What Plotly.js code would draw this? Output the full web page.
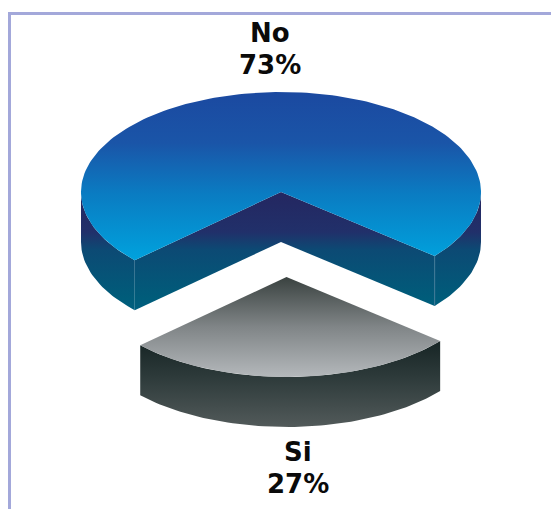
<!DOCTYPE html>
<html>
<head>
<meta charset="utf-8">
<script src="https://cdn.plot.ly/plotly-3.0.1.min.js"></script>
<style>html,body{margin:0;padding:0;background:#fff}#chart{width:551px;height:509px}</style>
</head>
<body>
<div id="chart"></div>
<script>
// Answer shares
const categories = ["No", "Si"];
const shares = [73, 27];

// Tilted-disc geometry, in page pixels
const radiusX = 200, radiusY = 100, depth = 50;
const firstAngle = 137;            // where "No" begins, clockwise on screen
const centers = {No: [281, 192], Si: [286.5, 277]};

const total = shares.reduce((a, b) => a + b, 0);
const rad = d => d * Math.PI / 180;

function rim(c, a, dy) {
  return [c[0] + radiusX * Math.cos(rad(a)), c[1] + radiusY * Math.sin(rad(a)) + (dy || 0)];
}
function arc(c, from, to) {
  const pts = [], n = Math.max(2, Math.ceil(Math.abs(to - from) / 1.5));
  for (let i = 0; i <= n; i++) pts.push(rim(c, from + (to - from) * i / n));
  return pts;
}
function polygon(pts, stops, start, stop) {
  return {
    type: "scatter", mode: "lines", hoverinfo: "skip", showlegend: false,
    x: pts.map(p => p[0]), y: pts.map(p => p[1]),
    line: {width: 0}, fill: "toself",
    fillgradient: {type: "vertical", colorscale: stops, start: start, stop: stop}
  };
}
function lift(p, dy) { return [p[0], p[1] + dy]; }

const blueSide = [[0, "#242660"], [0.35, "#21306a"], [0.5, "#0c4a74"], [0.9, "#005c7a"], [1, "#005f7f"]];
const blueTop  = [[0, "#1b49a0"], [0.3, "#1a55a8"], [0.6, "#0a7cc2"], [1, "#00a3de"]];
const greySide = [[0, "#182626"], [0.4, "#2d3a3a"], [1, "#525a5a"]];
const greyTop  = [[0, "#3a4240"], [0.5, "#808587"], [1, "#b4b8bb"]];

const noEnd = firstAngle + shares[0] / total * 360;   // same ray as the start of "Si"
const siEnd = noEnd + shares[1] / total * 360;

const traces = [];

// "No": walls first, then the top face
{
  const c = centers.No;
  const a = rim(c, firstAngle), b = rim(c, noEnd);
  // Outer wall, only the parts facing the viewer
  const leftArc = arc(c, firstAngle, 180);
  traces.push(polygon(leftArc.concat(leftArc.map(p => lift(p, depth)).reverse()), blueSide, 190, 310));
  const rightArc = arc(c, 360, noEnd);
  traces.push(polygon(rightArc.concat(rightArc.map(p => lift(p, depth)).reverse()), blueSide, 190, 310));
  // The two cut walls meeting at the centre
  traces.push(polygon([a, c, lift(c, depth), lift(a, depth)], blueSide, 190, 310));
  traces.push(polygon([c, b, lift(b, depth), lift(c, depth)], blueSide, 190, 310));
  // Light seam at the outer corner of the cut
  traces.push({
    type: "scatter", mode: "lines", hoverinfo: "skip", showlegend: false,
    x: [b[0], b[0]], y: [b[1], b[1] + depth],
    line: {color: "#3f7896", width: 1}
  });
  traces.push(polygon([c].concat(arc(c, firstAngle, noEnd)), blueTop, 92, 262));
}

// "Si": pulled out towards the viewer
{
  const c = centers.Si;
  const edge = arc(c, noEnd, siEnd);
  traces.push(polygon(edge.concat(edge.map(p => lift(p, depth)).reverse()), greySide, 343, 427));
  traces.push(polygon([c].concat(edge), greyTop, 277, 377));
}

const labelFont = {family: "DejaVu Sans, sans-serif", size: 26, color: "#0a0a0a"};
const labelAt = {No: [270, 33, 65], Si: [298, 452, 484]};
function textLabel(x, y, text) {
  return {
    xref: "x", yref: "y", x: x, y: y, text: "<b>" + text + "</b>",
    showarrow: false, align: "center", xanchor: "center", yanchor: "middle", font: labelFont
  };
}
const annotations = [];
categories.forEach((name, i) => {
  const at = labelAt[name];
  annotations.push(textLabel(at[0], at[1], name));
  annotations.push(textLabel(at[0], at[2], shares[i] + "%"));
});

const frame = "#a3a8da";
const layout = {
  width: 551, height: 509, margin: {l: 0, r: 0, t: 0, b: 0},
  paper_bgcolor: "#ffffff", plot_bgcolor: "#ffffff", showlegend: false,
  xaxis: {range: [0, 551], visible: false, fixedrange: true},
  yaxis: {range: [509, 0], visible: false, fixedrange: true},
  annotations: annotations,
  shapes: [
    {type: "rect", layer: "below", xref: "x", yref: "y", x0: 8, x1: 11, y0: 12, y1: 509, fillcolor: frame, line: {width: 0}},
    {type: "rect", layer: "below", xref: "x", yref: "y", x0: 8, x1: 551, y0: 12, y1: 15, fillcolor: frame, line: {width: 0}}
  ]
};

Plotly.newPlot("chart", traces, layout, {staticPlot: true, displayModeBar: false});
</script>
</body>
</html>
